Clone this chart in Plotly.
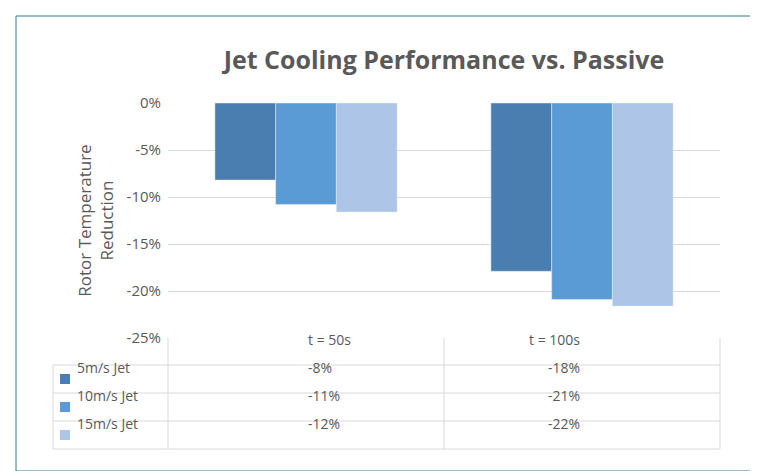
import plotly.graph_objects as go

categories = ["t = 50s", "t = 100s"]
series_names = ["5m/s Jet", "10m/s Jet", "15m/s Jet"]
values = [[-8.2, -17.9], [-10.8, -20.9], [-11.6, -21.6]]
table_text = [["-8%", "-18%"], ["-11%", "-21%"], ["-12%", "-22%"]]
tick_vals = [0, -5, -10, -15, -20, -25]
tick_text = ["0%", "-5%", "-10%", "-15%", "-20%", "-25%"]
colors = ["#4a7eb0", "#5b9bd5", "#adc5e6"]

W, H = 758, 471
L, R, T, B = 160, 46, 95, 141
pw, ph = W - L - R, H - T - B

def px(x):
    return (x - L) / pw

def py(y):
    return (H - B - y) / ph

fig = go.Figure()
for name, vals, c in zip(series_names, values, colors):
    fig.add_trace(go.Bar(x=categories, y=vals, name=name, marker_color=c, showlegend=False))

grid = "#d9d9d9"
txt = "#595959"
shapes, ann = [], []
# table lines
rows = [330, 357, 385, 413, 441]
for y in rows[1:]:
    shapes.append(dict(type="line", xref="paper", yref="paper", x0=px(45), x1=px(712), y0=py(y), y1=py(y), line=dict(color=grid, width=1)))
for x, y0 in [(45, 357), (160, 330), (436, 330), (712, 330)]:
    shapes.append(dict(type="line", xref="paper", yref="paper", x0=px(x), x1=px(x), y0=py(y0), y1=py(441), line=dict(color=grid, width=1)))
# header
for cat, cx in zip(categories, [298, 574]):
    ann.append(dict(text=cat, x=px(cx), y=py(343), xref="paper", yref="paper", showarrow=False, font=dict(size=14, color=txt)))
for i, (name, c) in enumerate(zip(series_names, colors)):
    cy = (rows[i + 1] + rows[i + 2]) / 2
    shapes.append(dict(type="rect", xref="paper", yref="paper", x0=px(52), x1=px(62), y0=py(cy - 5), y1=py(cy + 5), fillcolor=c, line=dict(width=0)))
    ann.append(dict(text=name, x=px(67), y=py(cy), xref="paper", yref="paper", xanchor="left", showarrow=False, font=dict(size=14, color=txt)))
    for j, cx in enumerate([298, 574]):
        ann.append(dict(text=table_text[i][j], x=px(cx), y=py(cy), xref="paper", yref="paper", showarrow=False, font=dict(size=14, color=txt)))
# outer border
shapes.append(dict(type="rect", xref="paper", yref="paper", x0=px(8), x1=px(745), y0=py(8), y1=py(463), line=dict(color="#2f7f8e", width=1)))

fig.update_layout(
    width=W, height=H,
    margin=dict(l=L, r=R, t=T, b=B, autoexpand=False),
    paper_bgcolor="white", plot_bgcolor="white",
    font=dict(family="Open Sans", color=txt),
    title=dict(text="<b>Jet Cooling Performance vs. Passive</b>", x=0.5, xref="paper", y=0.89, xanchor="center", yanchor="middle",
               font=dict(size=25, color=txt)),
    barmode="group", bargap=0.34, bargroupgap=0,
    shapes=shapes, annotations=ann,
)
fig.update_xaxes(showticklabels=False, showline=False, showgrid=False, automargin=False)
fig.update_yaxes(range=[-25, 0], tickvals=tick_vals, ticktext=tick_text, gridcolor=grid, zeroline=False,
                 tickfont=dict(size=15, color=txt), ticks="", ticklabelstandoff=6, automargin=False,
                 title=dict(text="Rotor Temperature<br>Reduction", font=dict(size=17, color=txt), standoff=8))
fig.write_html("out.html")
